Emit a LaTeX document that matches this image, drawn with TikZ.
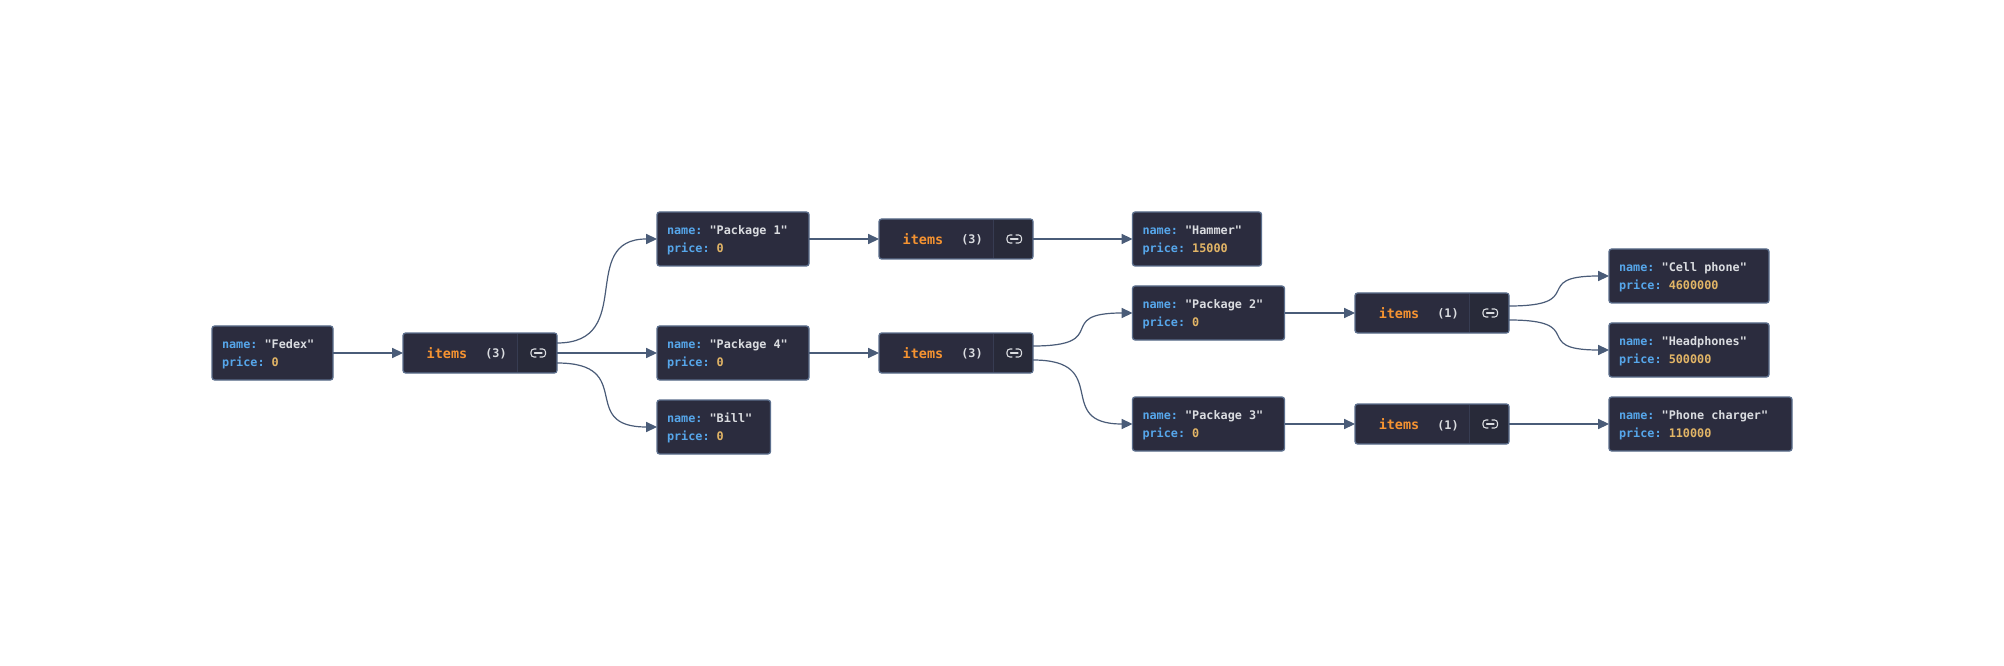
\documentclass[tikz,border=0pt]{standalone}
\usepackage{fontspec}
\setmonofont{DejaVu Sans Mono}
\usetikzlibrary{arrows.meta,calc}
\definecolor{cardbg}{HTML}{2B2C3E}
\definecolor{celldark}{HTML}{282A39}
\definecolor{cardline}{HTML}{5B6E8C}
\definecolor{edgeline}{HTML}{4A5C78}
\definecolor{keyc}{HTML}{56A6EA}
\definecolor{strc}{HTML}{DADCE0}
\definecolor{numc}{HTML}{E2B566}
\definecolor{itemc}{HTML}{F59331}
\tikzset{
  card/.style={draw=cardline,fill=cardbg,line width=1pt,rounded corners=2pt,anchor=north west,inner sep=0pt,outer sep=0pt},
  rec/.style={card,minimum height=40.5pt,align=flush left,text=strc,
    font=\ttfamily\bfseries\fontsize{8.85}{13.5}\selectfont},
  itembox/.style={card,minimum height=30pt},
  itemlbl/.style={text=itemc,font=\ttfamily\bfseries\fontsize{10.1}{12}\selectfont,anchor=base,inner sep=0pt},
  countlbl/.style={text=strc,font=\ttfamily\bfseries\fontsize{8.85}{12}\selectfont,anchor=base,inner sep=0pt},
  edge/.style={draw=edgeline,line width=0.9pt,-{Triangle[length=8.2pt,width=7.6pt]}},
  iconline/.style={draw=strc,line width=0.8pt,line cap=round},
}
% name, x, y, width, text name, price
\newcommand{\recbox}[6]{%
  \node[rec,minimum width=#4*0.75pt,text width=#4*0.75pt-15pt,inner xsep=7.5pt] (#1) at (#2,#3)
    {\rule{0pt}{8.6pt}\textcolor{keyc}{name:} "#5"\\\textcolor{keyc}{price:} \textcolor{numc}{#6}};}
% name, x, y, count
\newcommand{\itemsbox}[4]{%
  \node[itembox,minimum width=115.5pt] (#1) at (#2,#3) {};
  \fill[celldark] ($(#1.north west)+(114.5,1)$) rectangle ($(#1.south east)+(-1,-1)$);
  \draw[cardline!25!cardbg,line width=0.6pt] ($(#1.north west)+(114.5,1)$) -- ($(#1.south west)+(114.5,-1)$);
  \node[itemlbl] (#1t) at ($(#1.north west)+(44,25.6)$) {items};
  \node[countlbl] (#1c) at ($(#1.north west)+(93,25)$) {(#4)};
  \draw[iconline,rounded corners=2.2pt]
    ($(#1.north west)+(133,16)$) -- ($(#1.north west)+(128,16)$) -- ($(#1.north west)+(128,24)$) -- ($(#1.north west)+(133,24)$);
  \draw[iconline,rounded corners=2.2pt]
    ($(#1.north west)+(137,16)$) -- ($(#1.north west)+(142.5,16)$) -- ($(#1.north west)+(142.5,24)$) -- ($(#1.north west)+(137,24)$);
  \draw[iconline] ($(#1.north west)+(131.5,20)$) -- ($(#1.north west)+(139,20)$);}
\begin{document}
\begin{tikzpicture}[x=0.75pt,y=-0.75pt]
\path[use as bounding box,fill=white] (0,0) rectangle (2004,666);
\recbox{fedex}{212}{326}{121}{Fedex}{0}
\itemsbox{ia}{403}{333}{3}
\recbox{pa}{657}{212}{152}{Package 1}{0}
\recbox{pd}{657}{326}{152}{Package 4}{0}
\recbox{bill}{657}{400}{113.5}{Bill}{0}
\itemsbox{ib}{879}{219}{3}
\itemsbox{ic}{879}{333}{3}
\recbox{ham}{1132.5}{212}{129}{Hammer}{15000}
\recbox{pb}{1132.5}{286}{152}{Package 2}{0}
\recbox{pc}{1132.5}{397}{152}{Package 3}{0}
\itemsbox{id}{1355}{293}{1}
\itemsbox{ie}{1355}{404}{1}
\recbox{cell}{1609}{249}{160}{Cell phone}{4600000}
\recbox{head}{1609}{323}{160}{Headphones}{500000}
\recbox{charger}{1609}{397}{183}{Phone charger}{110000}
\draw[edge] (fedex.east) -- (ia.west);
\draw[edge] (ia.east) -- (pd.west);
\draw[edge] ($(ia.east)+(0,-10)$) .. controls +(80,0) and +(-80,0) .. (pa.west);
\draw[edge] ($(ia.east)+(0,10)$) .. controls +(80,0) and +(-80,0) .. (bill.west);
\draw[edge] (pa.east) -- (ib.west);
\draw[edge] (pd.east) -- (ic.west);
\draw[edge] (ib.east) -- (ham.west);
\draw[edge] ($(ic.east)+(0,-7)$) .. controls +(80,0) and +(-80,0) .. (pb.west);
\draw[edge] ($(ic.east)+(0,7)$) .. controls +(80,0) and +(-80,0) .. (pc.west);
\draw[edge] (pb.east) -- (id.west);
\draw[edge] (pc.east) -- (ie.west);
\draw[edge] ($(id.east)+(0,-7)$) .. controls +(80,0) and +(-80,0) .. (cell.west);
\draw[edge] ($(id.east)+(0,7)$) .. controls +(80,0) and +(-80,0) .. (head.west);
\draw[edge] (ie.east) -- (charger.west);
\end{tikzpicture}
\end{document}
